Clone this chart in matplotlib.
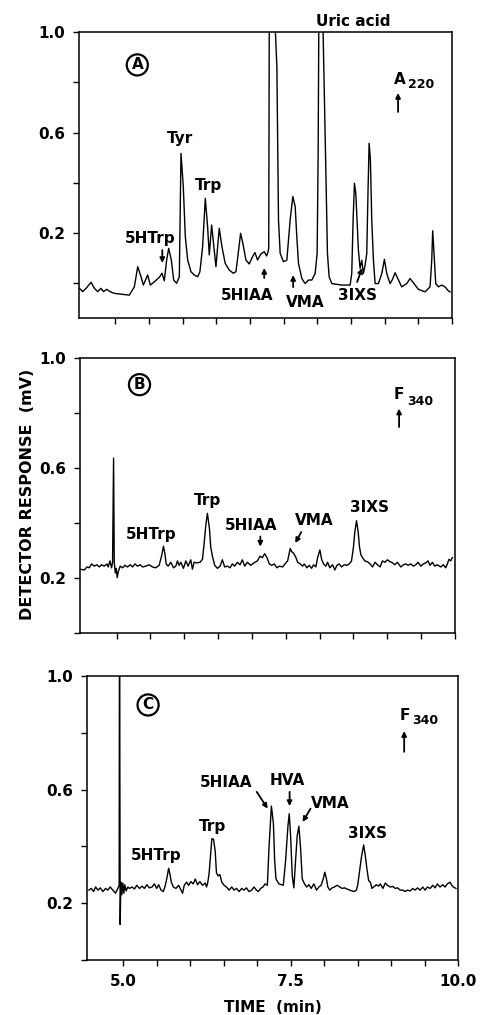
import matplotlib
matplotlib.use("Agg")
import matplotlib.pyplot as plt

plt.rcParams['font.family'] = ['DejaVu Sans']
plt.rcParams['font.weight'] = 'bold'

# --- Panel A : A220 trace (time in min, response in mV) ---
time_a = [4.466, 4.515, 4.565, 4.639, 4.689, 4.738, 4.787, 4.822, 4.872, 4.921,
          4.985, 5.084, 5.208, 5.282, 5.332, 5.381, 5.416, 5.480, 5.519, 5.579,
          5.653, 5.693, 5.727, 5.762, 5.792, 5.831, 5.866, 5.910, 5.950, 5.975,
          6.009, 6.039, 6.074, 6.123, 6.172, 6.222, 6.256, 6.296, 6.336, 6.370,
          6.395, 6.430, 6.464, 6.494, 6.543, 6.583, 6.632, 6.692, 6.751, 6.791,
          6.825, 6.860, 6.894, 6.939, 6.988, 7.038, 7.073, 7.112, 7.162, 7.211,
          7.246, 7.265, 7.278, 7.290, 7.330, 7.372, 7.378, 7.399, 7.423, 7.448,
          7.497, 7.547, 7.596, 7.636, 7.671, 7.695, 7.720, 7.770, 7.819, 7.868,
          7.918, 7.967, 7.997, 8.012, 8.025, 8.050, 8.078, 8.106, 8.131, 8.150,
          8.175, 8.215, 8.363, 8.487, 8.511, 8.531, 8.551, 8.571, 8.590, 8.610,
          8.635, 8.660, 8.684, 8.709, 8.734, 8.754, 8.769, 8.788, 8.808, 8.833,
          8.858, 8.907, 8.957, 8.996, 9.031, 9.080, 9.115, 9.154, 9.194, 9.253,
          9.328, 9.377, 9.426, 9.501, 9.600, 9.674, 9.699, 9.713, 9.733, 9.758,
          9.798, 9.847, 9.896, 9.946, 9.970]
resp_a = [-0.020, -0.033, -0.020, 0.004, -0.020, -0.033, -0.020, -0.033, -0.024, -0.033,
          -0.040, -0.043, -0.047, -0.014, 0.066, 0.026, -0.007, 0.033, -0.007, 0.006,
          0.024, 0.040, 0.010, 0.093, 0.139, 0.093, 0.013, 0.000, 0.026, 0.517,
          0.385, 0.186, 0.093, 0.046, 0.033, 0.026, 0.046, 0.146, 0.338, 0.225,
          0.113, 0.232, 0.146, 0.066, 0.219, 0.146, 0.079, 0.053, 0.040, 0.046,
          0.119, 0.199, 0.159, 0.093, 0.077, 0.106, 0.122, 0.093, 0.117, 0.126,
          0.109, 0.122, 0.140, 1.500, 1.800, 1.300, 0.995, 0.862, 0.252, 0.119,
          0.086, 0.092, 0.252, 0.345, 0.305, 0.185, 0.079, 0.019, -0.001, 0.013,
          0.013, 0.039, 0.119, 0.517, 1.200, 1.600, 1.100, 0.729, 0.384, 0.119,
          0.026, -0.001, -0.007, -0.007, 0.039, 0.252, 0.398, 0.358, 0.252, 0.132,
          0.059, 0.092, 0.039, 0.072, 0.119, 0.384, 0.557, 0.490, 0.252, 0.092,
          -0.001, -0.001, 0.039, 0.095, 0.039, -0.001, 0.015, 0.042, 0.019, -0.014,
          -0.001, 0.019, 0.002, -0.024, -0.034, -0.014, 0.092, 0.209, 0.119, -0.001,
          -0.014, -0.007, -0.014, -0.030, -0.034]

# --- Panel B : F340 trace ---
time_b = [4.460, 4.523, 4.563, 4.597, 4.631, 4.671, 4.710, 4.745, 4.779, 4.818,
          4.858, 4.877, 4.902, 4.926, 4.941, 4.956, 4.966, 4.981, 4.995, 5.010,
          5.025, 5.054, 5.089, 5.123, 5.162, 5.202, 5.236, 5.271, 5.310, 5.349,
          5.384, 5.433, 5.482, 5.531, 5.580, 5.629, 5.664, 5.693, 5.713, 5.733,
          5.762, 5.801, 5.841, 5.875, 5.900, 5.924, 5.949, 5.988, 6.023, 6.057,
          6.096, 6.121, 6.146, 6.185, 6.234, 6.269, 6.293, 6.318, 6.342, 6.372,
          6.391, 6.416, 6.450, 6.490, 6.529, 6.563, 6.598, 6.637, 6.677, 6.711,
          6.745, 6.785, 6.824, 6.858, 6.893, 6.932, 6.981, 7.030, 7.080, 7.119,
          7.153, 7.188, 7.222, 7.257, 7.291, 7.330, 7.370, 7.404, 7.453, 7.488,
          7.527, 7.566, 7.586, 7.616, 7.650, 7.675, 7.714, 7.748, 7.773, 7.812,
          7.847, 7.881, 7.911, 7.945, 7.970, 8.004, 8.029, 8.058, 8.092, 8.117,
          8.151, 8.191, 8.225, 8.255, 8.289, 8.324, 8.363, 8.402, 8.437, 8.471,
          8.500, 8.520, 8.545, 8.569, 8.589, 8.609, 8.633, 8.668, 8.707, 8.746,
          8.781, 8.820, 8.854, 8.894, 8.928, 8.963, 9.002, 9.041, 9.076, 9.110,
          9.149, 9.199, 9.238, 9.272, 9.307, 9.346, 9.385, 9.420, 9.454, 9.494,
          9.533, 9.567, 9.602, 9.631, 9.666, 9.700, 9.739, 9.789, 9.828, 9.862,
          9.887, 9.911, 9.936, 9.961]
resp_b = [0.232, 0.229, 0.240, 0.237, 0.251, 0.243, 0.248, 0.240, 0.248, 0.243,
          0.251, 0.240, 0.262, 0.237, 0.257, 0.636, 0.257, 0.218, 0.235, 0.201,
          0.223, 0.243, 0.237, 0.246, 0.240, 0.248, 0.240, 0.251, 0.243, 0.248,
          0.240, 0.243, 0.248, 0.240, 0.237, 0.246, 0.279, 0.315, 0.290, 0.251,
          0.243, 0.257, 0.237, 0.243, 0.262, 0.246, 0.257, 0.235, 0.262, 0.243,
          0.266, 0.232, 0.257, 0.255, 0.257, 0.268, 0.324, 0.391, 0.435, 0.380,
          0.313, 0.279, 0.246, 0.235, 0.243, 0.266, 0.240, 0.243, 0.237, 0.251,
          0.243, 0.257, 0.248, 0.266, 0.243, 0.257, 0.246, 0.255, 0.262, 0.279,
          0.274, 0.288, 0.274, 0.251, 0.246, 0.251, 0.237, 0.243, 0.240, 0.251,
          0.262, 0.307, 0.296, 0.290, 0.274, 0.257, 0.251, 0.243, 0.251, 0.237,
          0.246, 0.235, 0.248, 0.240, 0.274, 0.302, 0.268, 0.251, 0.243, 0.257,
          0.237, 0.248, 0.229, 0.246, 0.251, 0.240, 0.248, 0.246, 0.251, 0.262,
          0.313, 0.368, 0.408, 0.368, 0.313, 0.285, 0.274, 0.262, 0.259, 0.251,
          0.240, 0.257, 0.248, 0.240, 0.262, 0.257, 0.266, 0.259, 0.255, 0.248,
          0.257, 0.240, 0.248, 0.251, 0.246, 0.251, 0.243, 0.248, 0.257, 0.243,
          0.251, 0.255, 0.262, 0.246, 0.257, 0.243, 0.248, 0.240, 0.248, 0.237,
          0.251, 0.268, 0.262, 0.274]

# --- Panel C : F340 trace ---
time_c = [4.489, 4.523, 4.558, 4.588, 4.623, 4.657, 4.697, 4.737, 4.771, 4.806,
          4.846, 4.885, 4.920, 4.940, 4.945, 4.955, 4.965, 4.980, 4.995, 5.010,
          5.024, 5.044, 5.069, 5.094, 5.133, 5.168, 5.203, 5.243, 5.282, 5.317,
          5.352, 5.391, 5.431, 5.466, 5.501, 5.530, 5.565, 5.600, 5.629, 5.654,
          5.679, 5.699, 5.719, 5.749, 5.788, 5.828, 5.863, 5.887, 5.912, 5.947,
          5.977, 6.011, 6.046, 6.076, 6.111, 6.145, 6.185, 6.225, 6.245, 6.264,
          6.284, 6.309, 6.324, 6.349, 6.374, 6.393, 6.418, 6.443, 6.473, 6.507,
          6.542, 6.582, 6.621, 6.656, 6.691, 6.731, 6.770, 6.805, 6.840, 6.879,
          6.919, 6.954, 6.989, 7.018, 7.053, 7.088, 7.118, 7.153, 7.177, 7.213,
          7.243, 7.262, 7.282, 7.326, 7.391, 7.426, 7.460, 7.480, 7.500, 7.525,
          7.549, 7.574, 7.599, 7.624, 7.649, 7.674, 7.708, 7.738, 7.773, 7.808,
          7.847, 7.887, 7.922, 7.956, 7.986, 8.011, 8.036, 8.056, 8.085, 8.120,
          8.155, 8.194, 8.234, 8.269, 8.304, 8.343, 8.383, 8.418, 8.452, 8.482,
          8.502, 8.532, 8.557, 8.591, 8.616, 8.641, 8.666, 8.691, 8.715, 8.740,
          8.780, 8.814, 8.839, 8.879, 8.914, 8.948, 8.988, 9.028, 9.062, 9.097,
          9.137, 9.177, 9.211, 9.246, 9.286, 9.325, 9.360, 9.395, 9.434, 9.474,
          9.509, 9.543, 9.583, 9.623, 9.658, 9.692, 9.732, 9.772, 9.806, 9.841,
          9.881, 9.906, 9.930, 9.970]
resp_c = [0.246, 0.252, 0.241, 0.257, 0.246, 0.254, 0.241, 0.252, 0.246, 0.257,
          0.246, 0.235, 0.252, 0.263, 1.300, 0.125, 0.274, 0.230, 0.271, 0.235,
          0.265, 0.243, 0.257, 0.252, 0.257, 0.250, 0.263, 0.252, 0.260, 0.252,
          0.265, 0.254, 0.257, 0.268, 0.252, 0.265, 0.246, 0.241, 0.263, 0.290,
          0.323, 0.301, 0.274, 0.257, 0.252, 0.263, 0.246, 0.235, 0.263, 0.274,
          0.263, 0.276, 0.268, 0.285, 0.265, 0.276, 0.263, 0.271, 0.257, 0.274,
          0.307, 0.383, 0.427, 0.425, 0.383, 0.307, 0.296, 0.301, 0.274, 0.263,
          0.257, 0.246, 0.257, 0.246, 0.252, 0.241, 0.252, 0.246, 0.254, 0.241,
          0.246, 0.257, 0.246, 0.241, 0.252, 0.257, 0.268, 0.263, 0.394, 0.542,
          0.482, 0.350, 0.285, 0.268, 0.263, 0.351, 0.471, 0.515, 0.438, 0.296,
          0.254, 0.350, 0.438, 0.471, 0.394, 0.285, 0.268, 0.257, 0.265, 0.252,
          0.268, 0.246, 0.257, 0.263, 0.285, 0.309, 0.285, 0.257, 0.246, 0.254,
          0.257, 0.263, 0.257, 0.252, 0.254, 0.250, 0.246, 0.243, 0.241, 0.246,
          0.263, 0.318, 0.361, 0.405, 0.367, 0.318, 0.279, 0.274, 0.252, 0.257,
          0.265, 0.260, 0.268, 0.252, 0.271, 0.263, 0.257, 0.259, 0.252, 0.254,
          0.246, 0.246, 0.241, 0.246, 0.243, 0.252, 0.246, 0.254, 0.246, 0.257,
          0.246, 0.257, 0.252, 0.263, 0.254, 0.268, 0.257, 0.265, 0.257, 0.268,
          0.274, 0.263, 0.257, 0.252]

x_ticks = [5.0, 5.5, 6.0, 6.5, 7.0, 7.5, 8.0, 8.5, 9.0, 9.5, 10.0]
x_tick_labels = ['5.0', '', '', '', '', '7.5', '', '', '', '', '10.0']
y_ticks = [0.0, 0.2, 0.4, 0.6, 0.8, 1.0]
y_tick_labels = ['', '0.2', '', '0.6', '', '1.0']


def style_axis(ax, ylim, show_xlabels):
    ax.set_xlim(4.46, 10.0)
    ax.set_ylim(*ylim)
    ax.set_xticks(x_ticks)
    ax.set_xticklabels(x_tick_labels if show_xlabels else [''] * len(x_ticks))
    ax.set_yticks(y_ticks)
    ax.set_yticklabels(y_tick_labels)
    ax.tick_params(direction='out', length=4, width=1.0, labelsize=11, pad=6)
    for s in ax.spines.values():
        s.set_linewidth(1.1)


def arrow(ax, tail, head):
    ax.annotate('', xy=head, xytext=tail,
                arrowprops=dict(arrowstyle='-|>', lw=1.3, color='black',
                                mutation_scale=7, shrinkA=0, shrinkB=0))


def circled(ax, x, y, letter):
    ax.text(x, y, letter, ha='center', va='center', fontsize=11,
            bbox=dict(boxstyle='circle,pad=0.2', fc='none', ec='black', lw=1.6))


def label(ax, x, y, text, size=11):
    ax.text(x, y, text, ha='center', va='center', fontsize=size, clip_on=False)


fig = plt.figure(figsize=(4.84, 10.15), dpi=100)
ax_a = fig.add_axes([0.1632, 0.6867, 0.7707, 0.2818])
ax_b = fig.add_axes([0.1653, 0.3764, 0.7748, 0.2709])
ax_c = fig.add_axes([0.1798, 0.0542, 0.7665, 0.2798])

# Panel A
ax_a.plot(time_a, resp_a, color='black', lw=1.0)
style_axis(ax_a, (-0.138, 1.0), False)
circled(ax_a, 5.326, 0.869, 'A')
label(ax_a, 5.964, 0.578, 'Tyr')
label(ax_a, 6.380, 0.391, 'Trp')
label(ax_a, 5.519, 0.180, '5HTrp')
arrow(ax_a, (5.697, 0.132), (5.697, 0.081))
label(ax_a, 6.958, -0.047, '5HIAA')
arrow(ax_a, (7.211, 0.021), (7.211, 0.061))
label(ax_a, 7.819, -0.075, 'VMA')
arrow(ax_a, (7.641, -0.015), (7.641, 0.033))
label(ax_a, 8.591, -0.047, '3IXS')
arrow(ax_a, (8.591, 0.005), (8.665, 0.061))
label(ax_a, 8.531, 1.040, 'Uric acid')
label(ax_a, 9.228, 0.809, 'A')
label(ax_a, 9.535, 0.790, '220', size=9)
arrow(ax_a, (9.199, 0.682), (9.199, 0.757))

# Panel B
ax_b.plot(time_b, resp_b, color='black', lw=1.0)
style_axis(ax_b, (0.080, 1.0), False)
circled(ax_b, 5.339, 0.903, 'B')
label(ax_b, 5.516, 0.357, '5HTrp')
label(ax_b, 6.342, 0.481, 'Trp')
label(ax_b, 6.991, 0.391, '5HIAA')
arrow(ax_b, (7.124, 0.351), (7.124, 0.314))
label(ax_b, 7.920, 0.408, 'VMA')
arrow(ax_b, (7.729, 0.367), (7.640, 0.327))
label(ax_b, 8.732, 0.458, '3IXS')
label(ax_b, 9.174, 0.869, 'F')
label(ax_b, 9.486, 0.842, '340', size=9)
arrow(ax_b, (9.174, 0.749), (9.174, 0.816))

# Panel C
ax_c.plot(time_c, resp_c, color='black', lw=1.0)
style_axis(ax_c, (0.065, 1.0), True)
circled(ax_c, 5.372, 0.898, 'C')
label(ax_c, 9.211, 0.862, 'F')
label(ax_c, 9.509, 0.842, '340', size=9)
arrow(ax_c, (9.196, 0.733), (9.196, 0.806))
label(ax_c, 5.491, 0.368, '5HTrp')
label(ax_c, 6.339, 0.470, 'Trp')
label(ax_c, 6.533, 0.625, '5HIAA')
arrow(ax_c, (6.994, 0.592), (7.158, 0.533))
label(ax_c, 7.455, 0.631, 'HVA')
arrow(ax_c, (7.485, 0.592), (7.485, 0.542))
label(ax_c, 8.095, 0.552, 'VMA')
arrow(ax_c, (7.798, 0.533), (7.679, 0.486))
label(ax_c, 8.646, 0.444, '3IXS')
ax_c.set_xlabel('TIME  (min)', fontsize=11, fontweight='bold', labelpad=8)

fig.text(0.056, 0.513, 'DETECTOR RESPONSE  (mV)', rotation=90,
         ha='center', va='center', fontsize=11.5, fontweight='bold')

fig.savefig('out.png', dpi=100)
